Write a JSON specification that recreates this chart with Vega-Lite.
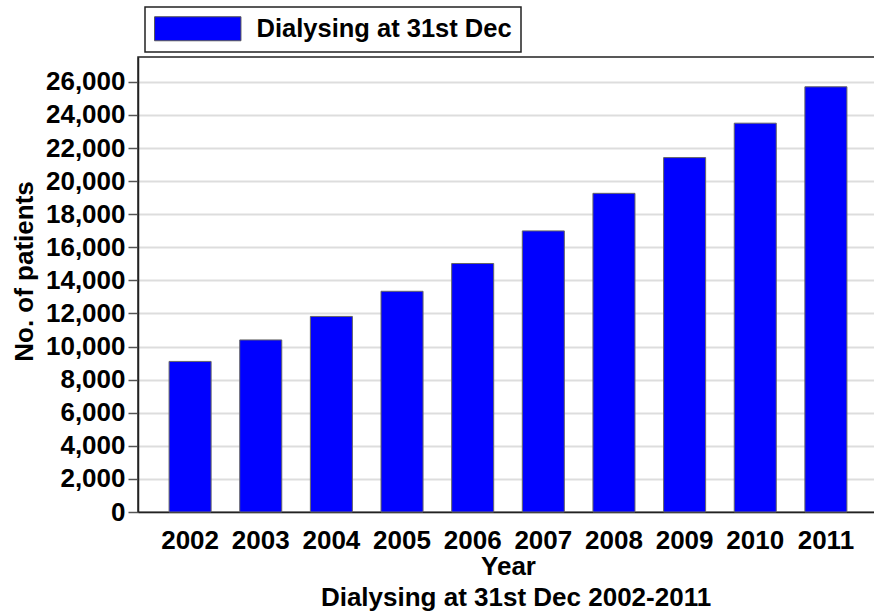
{
  "$schema": "https://vega.github.io/schema/vega-lite/v6.json",
  "autosize": {"type": "none"},
  "padding": {"left": 138, "top": 57, "right": 0, "bottom": 102},
  "width": 740,
  "height": 455,
  "background": "white",
  "config": {
    "font": "Liberation Sans",
    "view": {"stroke": "#222222", "strokeWidth": 1.5}
  },
  "title": {
    "text": "Dialysing at 31st Dec 2002-2011",
    "orient": "bottom",
    "anchor": "middle",
    "font": "Liberation Sans",
    "fontSize": 26,
    "fontWeight": "bold",
    "color": "#000000",
    "offset": 6,
    "dx": 8
  },
  "data": {
    "values": [
      {"year": "2002", "patients": 9100, "series": "Dialysing at 31st Dec"},
      {"year": "2003", "patients": 10400, "series": "Dialysing at 31st Dec"},
      {"year": "2004", "patients": 11820, "series": "Dialysing at 31st Dec"},
      {"year": "2005", "patients": 13340, "series": "Dialysing at 31st Dec"},
      {"year": "2006", "patients": 15020, "series": "Dialysing at 31st Dec"},
      {"year": "2007", "patients": 16990, "series": "Dialysing at 31st Dec"},
      {"year": "2008", "patients": 19260, "series": "Dialysing at 31st Dec"},
      {"year": "2009", "patients": 21420, "series": "Dialysing at 31st Dec"},
      {"year": "2010", "patients": 23500, "series": "Dialysing at 31st Dec"},
      {"year": "2011", "patients": 25700, "series": "Dialysing at 31st Dec"}
    ]
  },
  "mark": {"type": "bar", "stroke": "#666666", "strokeWidth": 1},
  "encoding": {
    "x": {
      "field": "year",
      "type": "ordinal",
      "scale": {"paddingInner": 0.405, "paddingOuter": 0.44},
      "axis": {
        "title": "Year",
        "titleFont": "Liberation Sans",
        "titleFontSize": 26,
        "titleFontWeight": "bold",
        "titleColor": "#000000",
        "titlePadding": 0,
        "labelAngle": 0,
        "labelFont": "Liberation Sans",
        "labelFontSize": 26,
        "labelFontWeight": "bold",
        "labelColor": "#000000",
        "labelPadding": 15,
        "ticks": false,
        "domainColor": "#222222",
        "domainWidth": 1.5,
        "grid": false
      }
    },
    "y": {
      "field": "patients",
      "type": "quantitative",
      "scale": {"domain": [0, 27500], "nice": false},
      "axis": {
        "title": "No. of patients",
        "titleFont": "Liberation Sans",
        "titleFontSize": 26,
        "titleFontWeight": "bold",
        "titleColor": "#000000",
        "titleX": -114,
        "titleY": 214,
        "titleAlign": "center",
        "titleBaseline": "middle",
        "titleAngle": 270,
        "values": [0, 2000, 4000, 6000, 8000, 10000, 12000, 14000, 16000, 18000, 20000, 22000, 24000, 26000],
        "format": ",d",
        "labelFont": "Liberation Sans",
        "labelFontSize": 26,
        "labelFontWeight": "bold",
        "labelColor": "#000000",
        "labelPadding": 3,
        "tickSize": 10,
        "tickColor": "#555555",
        "tickWidth": 1.5,
        "domainColor": "#222222",
        "domainWidth": 1.5,
        "gridColor": "#dddddd",
        "gridWidth": 2
      }
    },
    "color": {
      "field": "series",
      "type": "nominal",
      "scale": {"range": ["#0000ff"]},
      "legend": {
        "title": null,
        "orient": "none",
        "legendX": 7,
        "legendY": -50,
        "padding": 9,
        "strokeColor": "#222222",
        "symbolType": "M-3.6,-1H3.6V1H-3.6Z",
        "symbolSize": 576,
        "symbolStrokeColor": "#555555",
        "symbolStrokeWidth": 1,
        "symbolOpacity": 1,
        "symbolOffset": 31,
        "labelOffset": 46,
        "labelFont": "Liberation Sans",
        "labelFontSize": 25.5,
        "labelFontWeight": "bold",
        "labelColor": "#000000",
        "labelLimit": 400,
        "encode": {"legend": {"update": {"strokeWidth": {"value": 1.5}}}}
      }
    }
  }
}
